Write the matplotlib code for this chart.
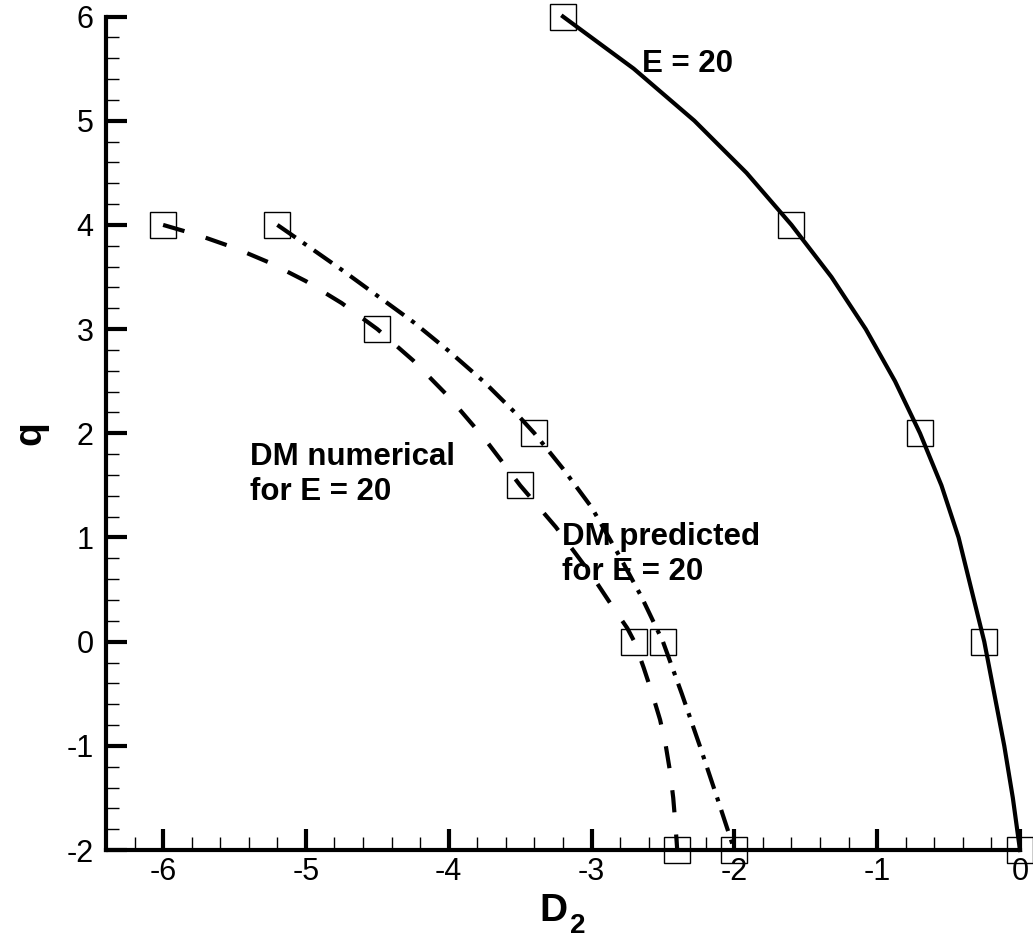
import matplotlib
matplotlib.use("Agg")
import matplotlib.pyplot as plt
from matplotlib.ticker import MultipleLocator

plt.rcParams['font.family'] = 'Liberation Sans'
plt.rcParams['axes.unicode_minus'] = False
plt.rcParams['lines.scale_dashes'] = False

# E = 20 curve (solid)
e20_d2 = [-3.20, -2.705, -2.28, -1.915, -1.60, -1.32, -1.08, -0.875, -0.70,
          -0.55, -0.43, -0.34, -0.25, -0.18, -0.11, -0.05, 0.0]
e20_q = [6.0, 5.5, 5.0, 4.5, 4.0, 3.5, 3.0, 2.5, 2.0,
         1.5, 1.0, 0.5, 0.0, -0.5, -1.0, -1.5, -2.0]
e20_mark_d2 = [-3.2, -1.6, -0.7, -0.25, 0.0]
e20_mark_q = [6, 4, 2, 0, -2]

# DM numerical (dashed)
num_d2 = [-6.0, -5.75, -5.5, -5.25, -5.0, -4.75, -4.5, -4.25, -4.0, -3.75,
          -3.5, -3.25, -3.0, -2.85, -2.75, -2.70, -2.635, -2.575, -2.52, -2.48,
          -2.45, -2.428, -2.413, -2.40]
num_q = [4.0, 3.90, 3.78, 3.635, 3.46, 3.25, 3.0, 2.70, 2.35, 1.95,
         1.5, 1.10, 0.64, 0.33, 0.13, 0.0, -0.25, -0.5, -0.75, -1.0,
         -1.25, -1.5, -1.75, -2.0]
num_mark_d2 = [-6.0, -4.5, -3.5, -2.7, -2.4]
num_mark_q = [4, 3, 1.5, 0, -2]

# DM predicted (dash-dot)
pred_d2 = [-5.2, -5.0, -4.75, -4.5, -4.25, -4.0, -3.75, -3.5, -3.4, -3.2,
           -3.0, -2.8, -2.65, -2.5, -2.368, -2.242, -2.12, -2.0]
pred_q = [4.0, 3.81, 3.57, 3.32, 3.07, 2.79, 2.49, 2.15, 2.0, 1.66,
          1.29, 0.81, 0.43, 0.0, -0.5, -1.0, -1.5, -2.0]
pred_mark_d2 = [-5.2, -3.4, -2.5, -2.0]
pred_mark_q = [4, 2, 0, -2]

fig = plt.figure(figsize=(10.33, 9.4), dpi=100)
ax = fig.add_axes([0.1026, 0.0957, 0.8848, 0.8867])

lw = 3.0
ax.plot(e20_d2, e20_q, color='black', lw=lw, clip_on=False)
ax.plot(num_d2, num_q, color='black', lw=lw, dashes=(16, 16), clip_on=False)
ax.plot(pred_d2, pred_q, color='black', lw=lw, dashes=(16, 6.5, 3, 6.5), clip_on=False)

mk = dict(ls='none', marker='s', ms=18.7, mfc='none', mec='black', mew=1.0, clip_on=False)
ax.plot(e20_mark_d2, e20_mark_q, **mk)
ax.plot(num_mark_d2, num_mark_q, **mk)
ax.plot(pred_mark_d2, pred_mark_q, **mk)

ax.set_xlim(-6.4, 0)
ax.set_ylim(-2, 6)

for side in ['top', 'right']:
    ax.spines[side].set_visible(False)
for side in ['left', 'bottom']:
    ax.spines[side].set_linewidth(3.0)

ax.xaxis.set_major_locator(MultipleLocator(1))
ax.xaxis.set_minor_locator(MultipleLocator(0.2))
ax.yaxis.set_major_locator(MultipleLocator(1))
ax.yaxis.set_minor_locator(MultipleLocator(0.2))
ax.tick_params(which='major', direction='in', length=15, width=3, labelsize=22)
ax.tick_params(which='minor', direction='in', length=9.4, width=1.0)
ax.tick_params(axis='x', which='major', pad=5)
ax.tick_params(axis='y', which='major', pad=9)
ax.tick_params(top=False, right=False, which='both')

# D with a dropped subscript 2
ax.set_xlabel('D', fontsize=28, fontweight='bold', labelpad=4)
ax.xaxis.label.set_x(0.49)
ax.annotate('2', xy=(1, 0), xycoords=ax.xaxis.label, xytext=(1.5, -3.5),
            textcoords='offset points', fontsize=20, fontweight='bold',
            ha='left', va='baseline')
ax.set_ylabel('q', fontsize=28, fontweight='bold', labelpad=13)

ax.text(-2.65, 5.47, 'E = 20', fontsize=22.5, fontweight='bold', va='baseline')
ax.text(-5.39, 1.36, 'DM numerical\nfor E = 20', fontsize=22.5, fontweight='bold',
        va='baseline', linespacing=1.2)
ax.text(-3.21, 0.594, 'DM predicted\nfor E = 20', fontsize=22.5, fontweight='bold',
        va='baseline', linespacing=1.2)

fig.savefig('out.png', dpi=100)
